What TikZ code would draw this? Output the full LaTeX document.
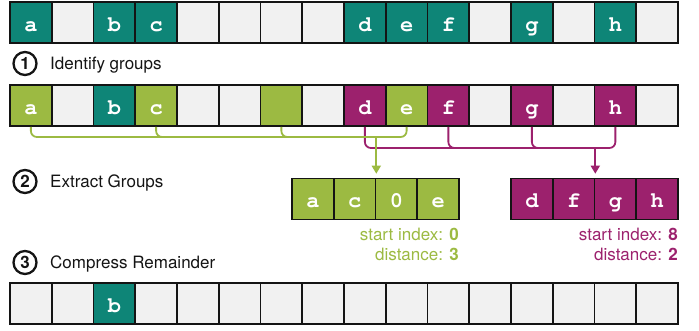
\documentclass[tikz,border=0pt]{standalone}
\usepackage[T1]{fontenc}
\usepackage{fontspec}
\setmainfont{TeX Gyre Heros}
\usetikzlibrary{arrows.meta}

\definecolor{cellTeal}{HTML}{0E8577}
\definecolor{grpGreen}{HTML}{9CBA42}
\definecolor{grpPlum}{HTML}{9C216D}
\definecolor{cellGray}{HTML}{F1F1F1}
\definecolor{inkDark}{HTML}{141414}

% Courier-style bold for the array entries
\newcommand\cellglyphs{\fontencoding{T1}\fontfamily{pcr}\fontseries{b}\fontshape{n}\fontsize{22}{22}\selectfont}
\newcommand\labelsize{\fontsize{17}{20}\selectfont}

\tikzset{
  cell/.style={draw=inkDark, line width=1.6pt, minimum width=41.75pt, minimum height=41pt,
    inner sep=0pt, text height=17pt, text depth=0pt, font=\cellglyphs, text=white},
  stepnum/.style={circle, draw=inkDark, line width=2.3pt, minimum size=23pt, inner sep=0pt,
    font=\fontsize{17}{17}\selectfont\bfseries, text=inkDark},
  steptext/.style={anchor=base west, font=\labelsize, text=inkDark, inner sep=0pt},
  grouptext/.style={anchor=base east, font=\labelsize, inner sep=0pt},
  gwire/.style={draw=grpGreen, line width=1.8pt, rounded corners=6pt},
  pwire/.style={draw=grpPlum, line width=1.8pt, rounded corners=6pt},
  garrow/.style={draw=grpGreen, line width=1.8pt, -{Triangle[width=9pt,length=8pt]}, shorten >=4pt},
  parrow/.style={draw=grpPlum, line width=1.8pt, -{Triangle[width=9pt,length=8pt]}, shorten >=4pt},
}

\begin{document}
\begin{tikzpicture}[x=1pt, y=-1pt]
\useasboundingbox (0,0) rectangle (699,330);

% input array
\foreach \i/\f/\t in {0/cellTeal/a, 1/cellGray/{}, 2/cellTeal/b, 3/cellTeal/c,
    4/cellGray/{}, 5/cellGray/{}, 6/cellGray/{}, 7/cellGray/{},
    8/cellTeal/d, 9/cellTeal/e, 10/cellTeal/f, 11/cellGray/{},
    12/cellTeal/g, 13/cellGray/{}, 14/cellTeal/h, 15/cellGray/{}}
  \node[cell, fill=\f] (t\i) at ({10+(\i+0.5)*41.75}, 22.5) {\t};

% step 1
\node[stepnum] (n1) at (25,63.5) {1};
\node[steptext] (s1) at (50,69.3) {Identify groups};

% array with groups marked
\foreach \i/\f/\t in {0/grpGreen/a, 1/cellGray/{}, 2/cellTeal/b, 3/grpGreen/c,
    4/cellGray/{}, 5/cellGray/{}, 6/grpGreen/{}, 7/cellGray/{},
    8/grpPlum/d, 9/grpGreen/e, 10/grpPlum/f, 11/cellGray/{},
    12/grpPlum/g, 13/cellGray/{}, 14/grpPlum/h, 15/cellGray/{}}
  \node[cell, fill=\f] (m\i) at ({10+(\i+0.5)*41.75}, 105.5) {\t};

% step 2
\node[stepnum] (n2) at (25,181.5) {2};
\node[steptext] (s2) at (50,187) {Extract Groups};

% extracted groups
\foreach \j/\t in {0/a, 1/c, 2/0, 3/e}
  \node[cell, fill=grpGreen] (g\j) at ({292+(\j+0.5)*41.75}, 199) {\t};
\foreach \j/\t in {0/d, 1/f, 2/g, 3/h}
  \node[cell, fill=grpPlum] (p\j) at ({511+(\j+0.5)*41.75}, 199) {\t};

% group brackets
\coordinate (glvl) at (0,137);
\coordinate (plvl) at (0,148);
\draw[pwire] (m8.south) |- (plvl -| m14.south) -- (m14.south);
\draw[pwire] (m10.south) |- (plvl -| m11.south);
\draw[pwire] (m12.south) |- (plvl -| m13.south);
\draw[parrow] (plvl -| p1.north east) -- (p1.north east);
\draw[gwire] (m0.south) |- (glvl -| m9.south) -- (m9.south);
\draw[gwire] (m3.south) |- (glvl -| m4.south);
\draw[gwire] (m6.south) |- (glvl -| m7.south);
\draw[garrow] (glvl -| g1.north east) -- (g1.north east);

% group parameters
\node[grouptext, text=grpGreen] (gstart) at (459,240) {start index: \textbf{0}};
\node[grouptext, text=grpGreen] (gdist) at (459,260.5) {distance: \textbf{3}};
\node[grouptext, text=grpPlum] (pstart) at (678,240) {start index: \textbf{8}};
\node[grouptext, text=grpPlum] (pdist) at (678,260.5) {distance: \textbf{2}};

% step 3
\node[stepnum] (n3) at (25,262.5) {3};
\node[steptext] (s3) at (50,268) {Compress Remainder};

% remainder array
\foreach \i in {0,...,15}
  \node[cell, fill=cellGray] (r\i) at ({10+(\i+0.5)*41.75}, 303.5) {};
\node[cell, fill=cellTeal] (rb) at (r2) {b};

\end{tikzpicture}
\end{document}
